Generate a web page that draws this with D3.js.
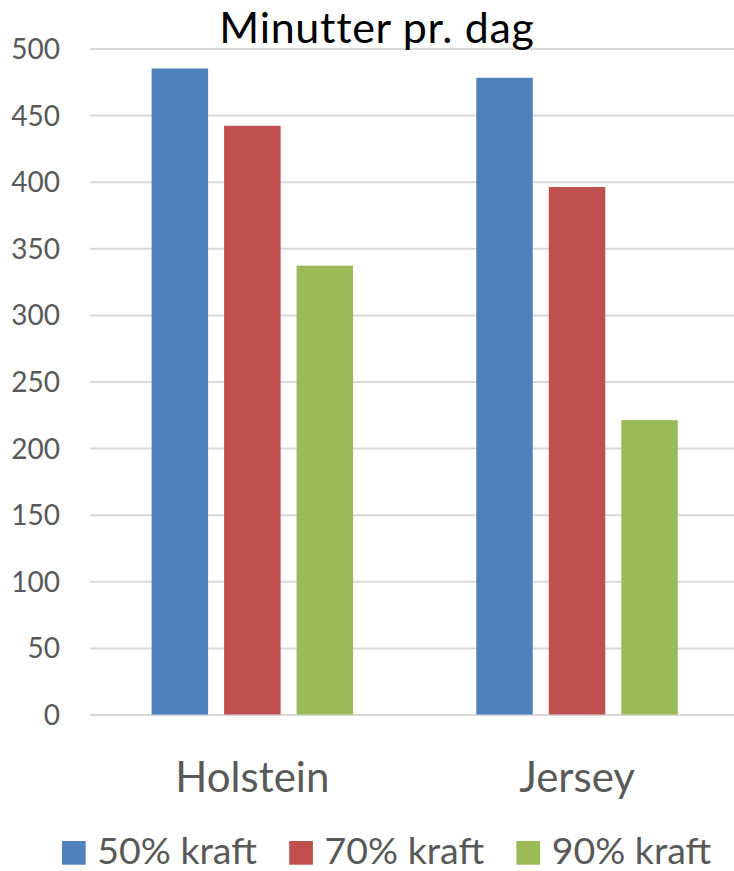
<!DOCTYPE html>
<html>
<head>
<meta charset="utf-8">
<script src="https://cdn.jsdelivr.net/npm/d3@7"></script>
<style>
  html, body { margin: 0; padding: 0; background: #fff; }
  svg { display: block; }
  text { font-family: Lato, "Open Sans", sans-serif; }
</style>
</head>
<body>
<svg id="chart" width="734" height="871"></svg>
<script>
const title = "Minutter pr. dag";
const categories = ["Holstein", "Jersey"];
const seriesNames = ["50% kraft", "70% kraft", "90% kraft"];
const seriesColors = ["#4F81BD", "#C0504D", "#9BBB59"];
const values50 = [485, 478];
const values70 = [442, 396];
const values90 = [337, 221];
const yTicks = [0, 50, 100, 150, 200, 250, 300, 350, 400, 450, 500];

const seriesValues = [values50, values70, values90];

const W = 734, H = 871;
const plotLeft = 90, plotRight = 739.4, plotTop = 48.5, plotBottom = 714.5;

const svg = d3.select("#chart");

const x0 = d3.scaleBand().domain(categories).range([plotLeft, plotRight]).padding(0);
const groupPad = 61.6;
const x1 = d3.scaleBand().domain(seriesNames)
  .range([groupPad, x0.bandwidth() - groupPad])
  .paddingInner(0.2207).paddingOuter(0);
const y = d3.scaleLinear().domain([0, 500]).range([plotBottom, plotTop]);

// gridlines + value labels
const yAxis = d3.axisLeft(y).tickValues(yTicks).tickSize(-(plotRight - plotLeft)).tickPadding(30).tickFormat(d3.format("d"));
const gy = svg.append("g").attr("transform", `translate(${plotLeft},0)`).call(yAxis);
gy.select(".domain").remove();
gy.selectAll(".tick line").attr("stroke", "#D9D9D9").attr("stroke-width", 2);
gy.selectAll(".tick text")
  .attr("fill", "#595959")
  .style("font-size", "28px")
  .attr("dy", "0.36em");

// bars
categories.forEach((cat, ci) => {
  const g = svg.append("g").attr("transform", `translate(${x0(cat)},0)`);
  seriesNames.forEach((s, si) => {
    const v = seriesValues[si][ci];
    g.append("rect")
      .attr("x", x1(s))
      .attr("y", y(v))
      .attr("width", x1.bandwidth())
      .attr("height", y(0) - y(v))
      .attr("fill", seriesColors[si]);
  });
});

// category axis labels
const xAxis = d3.axisBottom(x0).tickSize(0).tickPadding(0);
const gx = svg.append("g").attr("transform", `translate(0,${plotBottom})`).call(xAxis);
gx.select(".domain").remove();
gx.selectAll(".tick text")
  .attr("fill", "#595959")
  .attr("y", 77)
  .attr("dy", 0)
  .style("font-size", "42px");

// title
svg.append("text")
  .attr("x", 377)
  .attr("y", 43)
  .attr("text-anchor", "middle")
  .attr("fill", "#000")
  .style("font-size", "43px")
  .style("letter-spacing", "0.7px")
  .text(title);

// legend
const legendX = d3.scalePoint().domain(seriesNames).range([62, 516.4]);
const leg = svg.append("g");
seriesNames.forEach((s, i) => {
  const lx = legendX(s);
  leg.append("rect").attr("x", lx).attr("y", 841).attr("width", 23.7).attr("height", 23.7).attr("fill", seriesColors[i]);
  leg.append("text").attr("x", lx + 35.3).attr("y", 864).attr("fill", "#595959").style("font-size", "37.5px").text(s);
});
</script>
</body>
</html>
